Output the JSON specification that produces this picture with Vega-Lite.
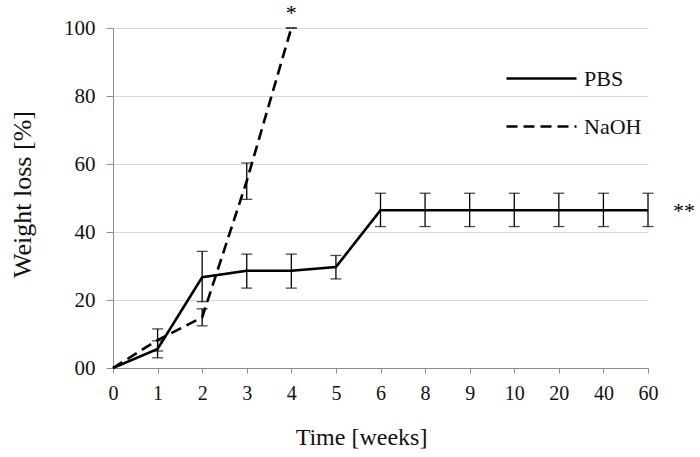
{
  "$schema": "https://vega.github.io/schema/vega-lite/v6.json",
  "width": 535,
  "height": 340,
  "autosize": {"type": "none"},
  "padding": {"left": 113, "top": 28, "right": 52, "bottom": 89},
  "background": "white",
  "config": {
    "view": {"stroke": null},
    "font": "Liberation Serif",
    "axis": {
      "labelFont": "Liberation Serif",
      "titleFont": "Liberation Serif",
      "labelFontSize": 20,
      "titleFontSize": 22,
      "titleFontWeight": "normal",
      "labelColor": "#111",
      "titleColor": "#111",
      "domainColor": "#8c8c8c",
      "tickColor": "#8c8c8c",
      "tickSize": 5,
      "gridColor": "#d9d9d9",
      "gridWidth": 1.2
    },
    "legend": {
      "labelFont": "Liberation Serif",
      "labelFontSize": 22,
      "labelColor": "#111"
    },
    "text": {"font": "Liberation Serif"}
  },
  "data": {
    "values": [
      {"week": "0", "group": "PBS", "loss": 0},
      {"week": "1", "group": "PBS", "loss": 5.6, "lo": 3, "hi": 8},
      {"week": "2", "group": "PBS", "loss": 26.7, "lo": 19.5, "hi": 34.3},
      {"week": "3", "group": "PBS", "loss": 28.6, "lo": 23.5, "hi": 33.5},
      {"week": "4", "group": "PBS", "loss": 28.6, "lo": 23.5, "hi": 33.5},
      {"week": "5", "group": "PBS", "loss": 29.7, "lo": 26.2, "hi": 33.1},
      {"week": "6", "group": "PBS", "loss": 46.4, "lo": 41.6, "hi": 51.4},
      {"week": "8", "group": "PBS", "loss": 46.4, "lo": 41.6, "hi": 51.4},
      {"week": "9", "group": "PBS", "loss": 46.4, "lo": 41.6, "hi": 51.4},
      {"week": "10", "group": "PBS", "loss": 46.4, "lo": 41.6, "hi": 51.4},
      {"week": "20", "group": "PBS", "loss": 46.4, "lo": 41.6, "hi": 51.4},
      {"week": "40", "group": "PBS", "loss": 46.4, "lo": 41.6, "hi": 51.4},
      {"week": "60", "group": "PBS", "loss": 46.4, "lo": 41.6, "hi": 51.4},
      {"week": "0", "group": "NaOH", "loss": 0},
      {"week": "1", "group": "NaOH", "loss": 8.2, "lo": 5, "hi": 11.5},
      {"week": "2", "group": "NaOH", "loss": 14.9, "lo": 12.4, "hi": 17.4},
      {"week": "3", "group": "NaOH", "loss": 55, "lo": 49.6, "hi": 60.3},
      {"week": "4", "group": "NaOH", "loss": 100, "lo": 100, "hi": 100}
    ]
  },
  "layer": [
    {
      "mark": {"type": "line", "color": "black", "strokeWidth": 2.6},
      "encoding": {
        "x": {
          "field": "week", "type": "ordinal",
          "sort": ["0","1","2","3","4","5","6","8","9","10","20","40","60"],
          "scale": {"type": "point", "padding": 0},
          "axis": {"labelAngle": 0, "labelPadding": 10, "labelFontSize": 20, "title": "Time [weeks]", "titleFontSize": 24, "titlePadding": 22, "titleX": 248, "grid": false}
        },
        "y": {
          "field": "loss", "type": "quantitative",
          "scale": {"domain": [0, 100], "nice": false},
          "title": "Weight loss [%]",
          "axis": {
            "values": [0, 20, 40, 60, 80, 100],
            "labelExpr": "datum.value == 0 ? '00' : datum.label",
            "labelFontSize": 21,
            "tickSize": 7,
            "labelPadding": 11,
            "titleFontSize": 26,
            "titlePadding": 28,
            "titleY": 166,
            "grid": true
          }
        },
        "strokeDash": {
          "field": "group", "type": "nominal",
          "scale": {"domain": ["PBS", "NaOH"], "range": [[1, 0], [11, 6]]},
          "legend": {
            "title": null,
            "orient": "none",
            "legendX": 392,
            "legendY": 14,
            "symbolType": "stroke",
            "symbolSize": 4900,
            "symbolStrokeWidth": 2.6,
            "symbolStrokeColor": "black",
            "rowPadding": -20,
            "labelOffset": 6
          }
        }
      }
    },
    {
      "transform": [{"filter": "datum.lo != null"}],
      "mark": {
        "type": "errorbar",
        "color": "black",
        "rule": {"strokeWidth": 1.3},
        "ticks": {"size": 11, "thickness": 1.3, "color": "black"}
      },
      "encoding": {
        "x": {"field": "week", "type": "ordinal", "sort": ["0","1","2","3","4","5","6","8","9","10","20","40","60"]},
        "y": {"field": "lo", "type": "quantitative", "title": "Weight loss [%]"},
        "y2": {"field": "hi"}
      }
    },
    {
      "data": {"values": [{"week": "4", "loss": 100, "note": "*"}]},
      "mark": {"type": "text", "fontSize": 22, "baseline": "middle", "dy": -15, "color": "black"},
      "encoding": {
        "x": {"field": "week", "type": "ordinal", "sort": ["0","1","2","3","4","5","6","8","9","10","20","40","60"]},
        "y": {"field": "loss", "type": "quantitative"},
        "text": {"field": "note"}
      }
    },
    {
      "data": {"values": [{"week": "60", "loss": 46.4, "note": "**"}]},
      "mark": {"type": "text", "fontSize": 22, "baseline": "middle", "dx": 36, "dy": 1, "color": "black"},
      "encoding": {
        "x": {"field": "week", "type": "ordinal", "sort": ["0","1","2","3","4","5","6","8","9","10","20","40","60"]},
        "y": {"field": "loss", "type": "quantitative"},
        "text": {"field": "note"}
      }
    }
  ]
}
